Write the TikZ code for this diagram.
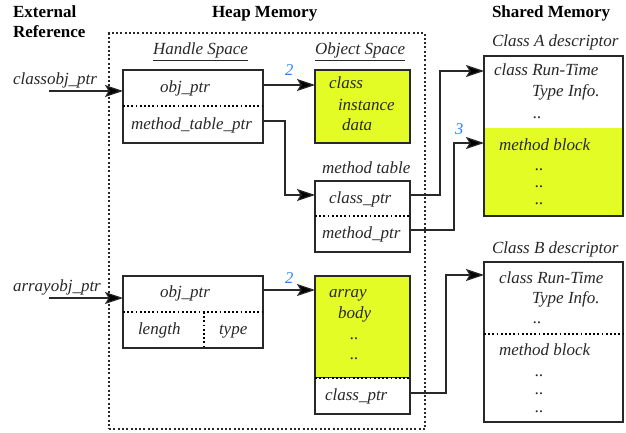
\documentclass[tikz,border=0pt]{standalone}
\usepackage{fontspec}
\setmainfont{Liberation Serif}
\usetikzlibrary{arrows.meta}
\definecolor{ylw}{RGB}{228,252,38}
\definecolor{lblue}{RGB}{40,130,255}
\definecolor{ink}{RGB}{40,40,40}
\begin{document}
\begin{tikzpicture}[x=1pt,y=-1pt,
  every node/.style={inner sep=0pt,outer sep=0pt},
  box/.style={draw=ink,line width=1.1pt,anchor=north west},
  txt/.style={anchor=base west,font=\fontsize{17}{20}\selectfont\itshape,text=ink},
  hdr/.style={anchor=base west,font=\fontsize{17}{20}\selectfont\bfseries,text=black},
  num/.style={anchor=base west,font=\fontsize{16.5}{18}\selectfont\itshape,text=lblue},
  arr/.style={draw=ink,line width=1.2pt,-{Stealth[length=18pt,width=12pt,inset=3.5pt,fill=black]}},
  dline/.style={draw=black,line width=1.8pt,dash pattern=on 1.8pt off 2.4pt},
  heapline/.style={draw=black,line width=2pt,dash pattern=on 2pt off 2.3pt}
]
\useasboundingbox (0,0) rectangle (626,433);

% headers
\node[hdr] (extA) at (13,18) {External};
\node[hdr] (extB) at (13,38) {Reference};
\node[hdr] (heap) at (212,18) {Heap Memory};
\node[hdr] (shared) at (492,18) {Shared Memory};

% heap border
\node[heapline,box,minimum width=316pt,minimum height=396pt] (heapbox) at (109,33) {};

\node[txt] (hs) at (153,55) {\underline{Handle Space}};
\node[txt] (os) at (315,55) {\underline{Object Space}};

% handle 1
\node[box,minimum width=140pt,minimum height=73pt] (h1) at (123,70) {};
\draw[dline] (h1.west |- 0,106) -- (h1.east |- 0,106);
\node[txt] (h1a) at (160,93) {obj\_ptr};
\node[txt] (h1b) at (131,130) {method\_table\_ptr};

% object 1
\node[box,fill=ylw,minimum width=95pt,minimum height=73pt] (o1) at (315,70) {};
\node[txt] (o1a) at (329,89) {class};
\node[txt] (o1b) at (338,111) {instance};
\node[txt] (o1c) at (342,131) {data};

% method table
\node[txt] (mtl) at (322,173) {method table};
\node[box,minimum width=95pt,minimum height=71pt] (mt) at (315,181) {};
\draw[dline] (mt.west |- 0,216) -- (mt.east |- 0,216);
\node[txt] (mta) at (329,203) {class\_ptr};
\node[txt] (mtb) at (322,238) {method\_ptr};

% handle 2
\node[box,minimum width=140pt,minimum height=72pt] (h2) at (123,276) {};
\draw[dline] (h2.west |- 0,312) -- (h2.east |- 0,312);
\draw[dline] (204,312) -- (204,348);
\node[txt] (h2a) at (160,297) {obj\_ptr};
\node[txt] (h2b) at (138,334) {length};
\node[txt] (h2c) at (219,334) {type};

% array body
\node[box,fill=ylw,minimum width=95pt,minimum height=102pt] (ab) at (315,276) {};
\fill[white] (316,378) rectangle (409.5,414);
\draw[ink,line width=1.1pt] (ab.north west) rectangle (ab.south east |- 0,414);
\draw[dline] (ab.west |- 0,378) -- (ab.east |- 0,378);
\node[txt] (aba) at (329,297) {array};
\node[txt] (abb) at (338,318) {body};
\node[txt] (abc) at (350,339) {..};
\node[txt] (abd) at (350,359) {..};
\node[txt] (abe) at (325,400) {class\_ptr};

% class A descriptor
\node[txt] (cal) at (492,47) {Class A descriptor};
\node[box,fill=ylw,minimum width=139pt,minimum height=160pt] (ca) at (484,56) {};
\fill[white] (484.6,56.6) rectangle (622.4,128);
\node[draw=ink,line width=1.1pt,anchor=north west,minimum width=139pt,minimum height=160pt] (caframe) at (484,56) {};
\node[txt] (caa) at (494,76) {class Run-Time};
\node[txt] (cab) at (532,97) {Type Info.};
\node[txt] (cac) at (533,118) {..};
\node[txt] (cad) at (499,150) {method block};
\node[txt] (cae) at (535,170) {..};
\node[txt] (caf) at (535,187) {..};
\node[txt] (cag) at (535,204) {..};

% class B descriptor
\node[txt] (cbl) at (492,253) {Class B descriptor};
\node[box,minimum width=139pt,minimum height=160pt] (cb) at (484,262) {};
\draw[dline] (cb.west |- 0,334) -- (cb.east |- 0,334);
\node[txt] (cba) at (499,283) {class Run-Time};
\node[txt] (cbb) at (532,303) {Type Info.};
\node[txt] (cbc) at (533,323) {..};
\node[txt] (cbd) at (499,355) {method block};
\node[txt] (cbe) at (535,376) {..};
\node[txt] (cbf) at (535,394) {..};
\node[txt] (cbg) at (535,412) {..};

% external references
\node[txt] (cref) at (13,85) {classobj\_ptr};
\node[txt] (aref) at (13,291) {arrayobj\_ptr};
\coordinate (cstart) at (49,91);
\coordinate (astart) at (49,298);
\draw[arr] (cstart) -- (cstart -| h1.west);
\draw[arr] (astart) -- (astart -| h2.west);

% pointers
\draw[arr] (h1.east |- 0,85) -- (o1.west |- 0,85);
\node[num] (n2a) at (285,76) {2};
\draw[arr] (h1.east |- 0,121) -- (285,121) -- (285,195) -- (mt.west |- 0,195);
\draw[arr] (mt.east |- 0,195) -- (440,195) -- (440,71) -- (ca.west |- 0,71);
\draw[arr] (mt.east |- 0,230) -- (454,230) -- (454,143) -- (ca.west |- 0,143);
\node[num] (n3) at (455,135) {3};
\draw[arr] (h2.east |- 0,290) -- (ab.west |- 0,290);
\node[num] (n2b) at (285,283) {2};
\draw[arr] (ab.east |- 0,393) -- (446,393) -- (446,275) -- (cb.west |- 0,275);
\end{tikzpicture}
\end{document}
